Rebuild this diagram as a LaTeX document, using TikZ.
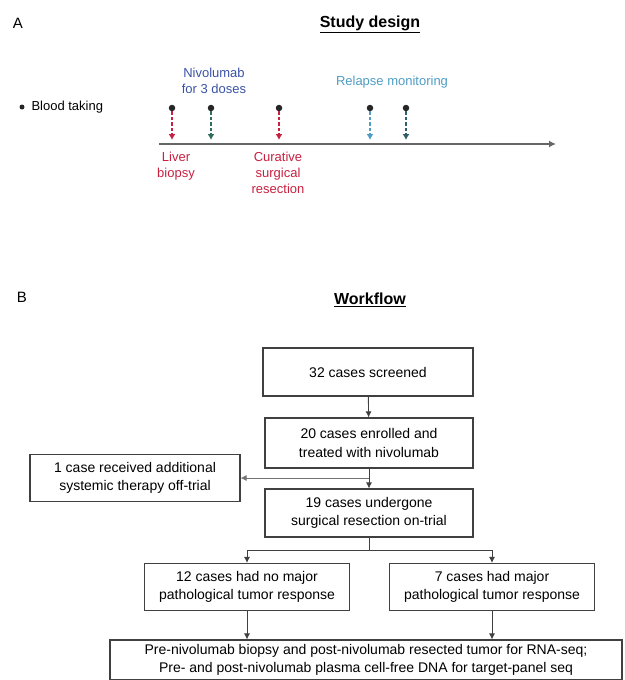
\documentclass[tikz,border=0pt]{standalone}
\usepackage{fontspec}
\setmainfont{Liberation Sans}
\usetikzlibrary{arrows.meta}
\definecolor{cred}{HTML}{C8203F}
\definecolor{cgreen}{HTML}{2F6E5C}
\definecolor{clblue}{HTML}{4F9CC4}
\definecolor{cteal}{HTML}{2E5F66}
\definecolor{cniv}{HTML}{3A52A8}
\begin{document}
\begin{tikzpicture}[x=1pt,y=-1pt,
  box/.style={draw=black!75, line width=1.1pt, align=center, inner sep=2pt,
    font=\fontsize{14}{18.5}\selectfont},
  ttl/.style={font=\bfseries\fontsize{16}{18}\selectfont},
  lbl/.style={font=\fontsize{15}{17}\selectfont},
  tl/.style={font=\fontsize{13}{16}\selectfont, align=center},
  dotnode/.style={circle, fill=black!85, inner sep=0pt, minimum size=6.5pt},
  flow/.style={draw=black!75, line width=0.9pt},
  tip/.style={-{Latex[length=6pt,width=6pt]}},
  markarrow/.style={line width=2pt, dashed, dash pattern=on 3.5pt off 2pt, -{Latex[length=6pt,width=7pt]}}
]
\useasboundingbox (0,0) rectangle (624,680);

% ---------- Panel A ----------
\node[lbl] (A) at (18,23) {A};
\node[ttl] (sd) at (370,24) {\underline{Study design}};

\node[dotnode, minimum size=5pt] (bdot) at (22,107) {};
\node[tl, anchor=west] (bt) at (28,107) {Blood taking};

\node[tl, text=cniv] (niv) at (214,81) {Nivolumab\\for 3 doses};
\node[tl, text=clblue] (rel) at (392,82) {Relapse monitoring};

\coordinate (tl0) at (159,144);
\coordinate (tl1) at (556,144);
\draw[line width=2.4pt, draw=black!60, -{Latex[length=7pt,width=7pt]}] (tl0) -- (tl1);

\node[dotnode] (d1) at (172,108) {};
\node[dotnode] (d2) at (211,108) {};
\node[dotnode] (d3) at (279,108) {};
\node[dotnode] (d4) at (370,108) {};
\node[dotnode] (d5) at (406,108) {};
\coordinate (e1) at (172,140);
\coordinate (e2) at (211,140);
\coordinate (e3) at (279,140);
\coordinate (e4) at (370,140);
\coordinate (e5) at (406,140);
\draw[markarrow, draw=cred] (d1) -- (e1);
\draw[markarrow, draw=cgreen] (d2) -- (e2);
\draw[markarrow, draw=cred] (d3) -- (e3);
\draw[markarrow, draw=clblue] (d4) -- (e4);
\draw[markarrow, draw=cteal] (d5) -- (e5);

\node[tl, text=cred] (liv) at (176,166) {Liver\\biopsy};
\node[tl, text=cred] (cur) at (278,173) {Curative\\surgical\\resection};

% ---------- Panel B ----------
\node[lbl] (B) at (22,297) {B};
\node[ttl] (wf) at (370,300) {\underline{Workflow}};

\node[box, minimum width=210pt, minimum height=48pt] (b1) at (368,372) {32 cases screened};
\node[box, minimum width=208pt, minimum height=50pt] (b2) at (369,443) {20 cases enrolled and\\treated with nivolumab};
\node[box, minimum width=208pt, minimum height=48pt] (b3) at (369,513) {19 cases undergone\\surgical resection on-trial};
\node[box, minimum width=210pt, minimum height=47pt] (bl) at (135,478) {1 case received additional\\systemic therapy off-trial};
\node[box, minimum width=205pt, minimum height=47pt] (b4) at (247,587) {12 cases had no major\\pathological tumor response};
\node[box, minimum width=205pt, minimum height=47pt] (b5) at (492,587) {7 cases had major\\pathological tumor response};
\node[box, minimum width=512pt, minimum height=40pt, inner sep=1pt] (b6) at (366,660) {Pre-nivolumab biopsy and post-nivolumab resected tumor for RNA-seq;\\Pre- and post-nivolumab plasma cell-free DNA for target-panel seq};

\draw[flow, tip] (b1) -- (b2);
\draw[flow, tip] (b2) -- (b3);
\coordinate (br) at (369,478);
\draw[flow, tip, draw=black!55] (br) -- (bl.east);

\coordinate (j) at (369,550);
\coordinate (jl) at (247,550);
\coordinate (jr) at (492,550);
\draw[flow] (b3.south) -- (j);
\draw[flow] (jl) -- (jr);
\draw[flow, tip] (jl) -- (b4.north);
\draw[flow, tip] (jr) -- (b5.north);
\draw[flow, tip] (b4.south) -- (b4.south |- b6.north);
\draw[flow, tip] (b5.south) -- (b5.south |- b6.north);
\end{tikzpicture}
\end{document}
